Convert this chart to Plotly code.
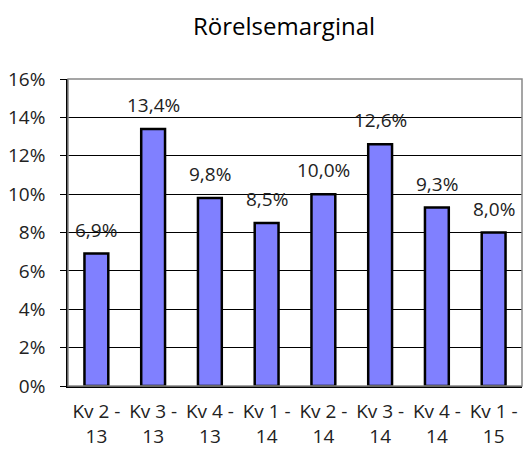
import plotly.graph_objects as go

categories = ["Kv 2 - 13", "Kv 3 - 13", "Kv 4 - 13", "Kv 1 - 14",
              "Kv 2 - 14", "Kv 3 - 14", "Kv 4 - 14", "Kv 1 - 15"]
quarter_labels = ["Kv 2 -", "Kv 3 -", "Kv 4 -", "Kv 1 -", "Kv 2 -", "Kv 3 -", "Kv 4 -", "Kv 1 -"]
year_labels = ["13", "13", "13", "14", "14", "14", "14", "15"]
values = [6.9, 13.4, 9.8, 8.5, 10.0, 12.6, 9.3, 8.0]
y_ticks = [0, 2, 4, 6, 8, 10, 12, 14, 16]
y_tick_labels = [f"{v}%" for v in y_ticks]
title = "Rörelsemarginal"

labels = [f"{v:.1f}".replace(".", ",") + "%" for v in values]

fig = go.Figure()
fig.add_trace(go.Bar(
    x=categories, y=values,
    marker=dict(color="#8080FF", line=dict(color="black", width=2.5)),
    width=0.42, hoverinfo="skip",
))
# invisible trace to carry the second tick-label row (years)
fig.add_trace(go.Scatter(x=categories, y=[None] * len(categories), xaxis="x2",
                         mode="markers", hoverinfo="skip", showlegend=False))
for c, v, t in zip(categories, values, labels):
    fig.add_annotation(x=c, y=v, text=t, showarrow=False, yshift=24,
                       font=dict(size=19, color="#222"))

fig.add_shape(type="rect", xref="paper", yref="paper", x0=0, x1=1, y0=0, y1=1,
              line=dict(color="#888", width=1.5), layer="above")

fig.update_layout(
    width=526, height=451,
    margin=dict(l=68, r=4, t=79, b=65),
    paper_bgcolor="white", plot_bgcolor="white",
    font=dict(family="Open Sans", size=19, color="#222"),
    title=dict(text=title, x=0.54, xanchor="center", y=0.94, yanchor="middle",
               font=dict(size=24, color="black")),
    showlegend=False,
    xaxis=dict(type="category", categoryarray=categories, tickvals=categories,
               ticktext=quarter_labels, showline=True, linecolor="black",
               linewidth=1.5, ticks="", ticklabelstandoff=7, tickfont=dict(size=19),
               automargin=False),
    xaxis2=dict(type="category", categoryarray=categories, tickvals=categories,
                ticktext=year_labels, overlaying="x", matches="x", anchor="free",
                position=0, side="bottom", showline=False, showgrid=False,
                ticks="", ticklabelstandoff=37, tickfont=dict(size=19),
                automargin=False),
    yaxis=dict(range=[0, 16], tickvals=y_ticks, ticktext=y_tick_labels,
               showgrid=True, gridcolor="black", gridwidth=1,
               showline=True, linecolor="black", linewidth=1.5,
               ticks="outside", ticklen=6, tickcolor="black", zeroline=False,
               ticklabelstandoff=11, automargin=False),
)

fig.write_html("out.html", config={"displayModeBar": False},
               post_script="document.body.style.margin='0';document.body.style.overflow='hidden';")
